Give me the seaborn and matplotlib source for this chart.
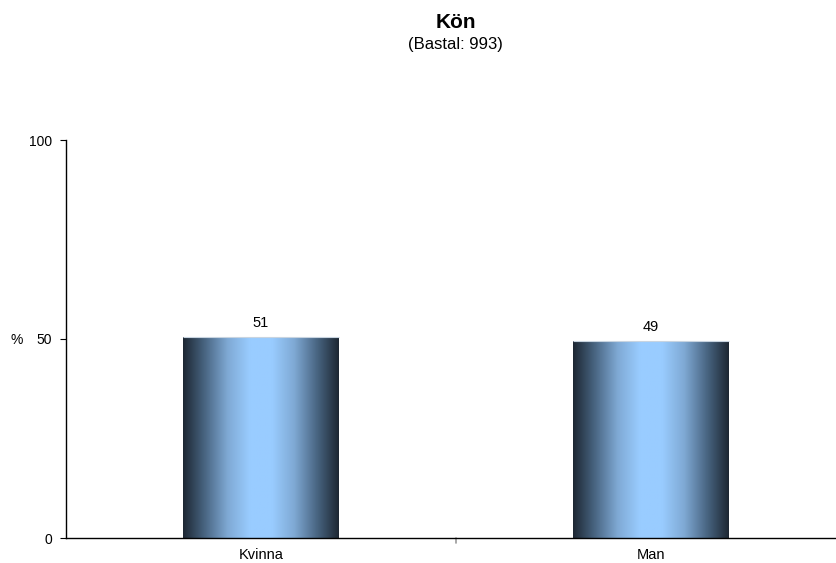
import numpy as np
import pandas as pd
import matplotlib
matplotlib.use("Agg")
import matplotlib.pyplot as plt
from matplotlib.colors import LinearSegmentedColormap
import seaborn as sns

categories = ["Kvinna", "Man"]
values = [50.6, 49.4]
title = "Kön"
subtitle = "(Bastal: 993)"

sns.set_theme(style="white")
plt.rcParams['font.family'] = ['Liberation Sans', 'DejaVu Sans']
plt.rcParams['text.color'] = 'black'
plt.rcParams['xtick.color'] = 'black'
plt.rcParams['ytick.color'] = 'black'

W, H = 837, 563
fig = plt.figure(figsize=(W / 100, H / 100), dpi=100)
left, right, top, bottom = 66, 846, 140, 538
ax = fig.add_axes([left / W, 1 - bottom / H, (right - left) / W, (bottom - top) / H])

df = pd.DataFrame({"cat": categories, "val": values})
sns.barplot(data=df, x="cat", y="val", ax=ax, width=0.4, color="#99ccff",
            edgecolor="none", linewidth=0)

cmap = LinearSegmentedColormap.from_list(
    "grad", ["#1d2733", "#4a6784", "#7fa9d4", "#99ccff", "#99ccff", "#7fa9d4", "#4a6784", "#1d2733"])
grad = np.linspace(0, 1, 256).reshape(1, -1)
for p in list(ax.patches):
    x0, y0 = p.get_x(), p.get_y()
    w, h = p.get_width(), p.get_height()
    im = ax.imshow(grad, extent=[x0, x0 + w, y0, y0 + h], aspect="auto", cmap=cmap,
                   zorder=p.get_zorder() + 0.1, interpolation="bilinear")
    im.set_clip_path(p)
    ax.plot([x0, x0 + w], [y0 + h, y0 + h], color="#c8d4e0", lw=0.8,
            zorder=p.get_zorder() + 0.2, solid_capstyle="butt")
    ax.annotate(f"{int(np.floor(h + 0.5))}", (x0 + w / 2, y0 + h), xytext=(0, 5),
                textcoords="offset points", ha="center", va="bottom", fontsize=10.5, color="black")

ax.set_xlim(-0.5, 1.5)
ax.set_ylim(0, 100)
ax.set_yticks([0, 50, 100])
ax.set_yticklabels(["0", "50", "100"], fontsize=10)
ax.set_xticks([0, 1])
ax.set_xticklabels(categories, fontsize=10.5)
ax.tick_params(axis="x", length=0, pad=7)
ax.tick_params(axis="y", length=4, width=0.8, color="black", direction="out", pad=6, left=True)
ax.set_xlabel("")
ax.set_ylabel("")
# category divider tick
ax.plot([0.5, 0.5], [0, -1.2], color="#999999", lw=1.2, clip_on=False, transform=ax.transData)

for s in ["top", "right"]:
    ax.spines[s].set_visible(False)
for s in ["left", "bottom"]:
    ax.spines[s].set_visible(True)
    ax.spines[s].set_color("black")
    ax.spines[s].set_linewidth(1.0)

fig.text(17 / W, 1 - 340 / H, "%", fontsize=10, ha="center", va="center")
fig.text(456 / W, 1 - 22 / H, title, fontsize=15, fontweight="bold", ha="center", va="center")
fig.text(455 / W, 1 - 45 / H, subtitle, fontsize=12, ha="center", va="center")

fig.savefig("out.png", dpi=100)
